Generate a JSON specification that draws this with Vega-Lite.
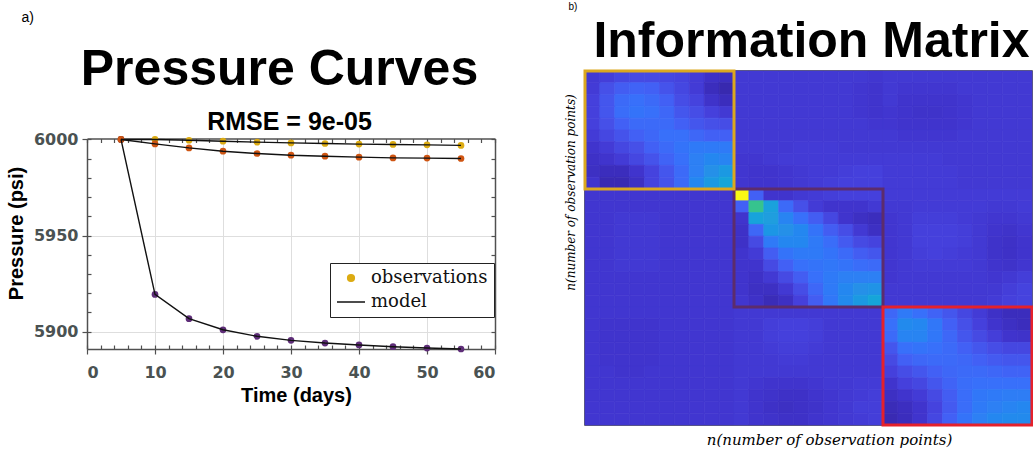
{
"$schema":"https://vega.github.io/schema/vega-lite/v6.json",
"background":"white",
"padding":{"left":6,"top":0,"right":0,"bottom":0},
"config":{
 "view":{"stroke":"#505050","strokeWidth":1.5},
 "legend":{"symbolBaseFillColor":"#dcab12"},
 "axis":{"labelFont":"DejaVu Sans","labelFontWeight":"bold","labelFontSize":16,"labelColor":"#4a5252","tickColor":"#505050","tickWidth":1.2,"domainColor":"#505050","domainWidth":1.5,"gridColor":"#dedede","gridWidth":1,"titleFont":"Liberation Sans","titleFontWeight":"bold","titleFontSize":20,"titleColor":"#000000"}
},
"datasets":{
 "press":[
  {"t":5,"p":6000,"w":"A"},{"t":10,"p":6000,"w":"A"},{"t":15,"p":5999.6,"w":"A"},{"t":20,"p":5999.1,"w":"A"},{"t":25,"p":5998.6,"w":"A"},{"t":30,"p":5998.2,"w":"A"},{"t":35,"p":5997.9,"w":"A"},{"t":40,"p":5997.6,"w":"A"},{"t":45,"p":5997.4,"w":"A"},{"t":50,"p":5997.2,"w":"A"},{"t":55,"p":5996.9,"w":"A"},
  {"t":5,"p":6000,"w":"C"},{"t":10,"p":5919.4,"w":"C"},{"t":15,"p":5906.8,"w":"C"},{"t":20,"p":5901.0,"w":"C"},{"t":25,"p":5897.6,"w":"C"},{"t":30,"p":5895.5,"w":"C"},{"t":35,"p":5894.1,"w":"C"},{"t":40,"p":5893.1,"w":"C"},{"t":45,"p":5892.2,"w":"C"},{"t":50,"p":5891.5,"w":"C"},{"t":55,"p":5891.0,"w":"C"},
  {"t":5,"p":6000,"w":"B"},{"t":10,"p":5997.7,"w":"B"},{"t":15,"p":5995.6,"w":"B"},{"t":20,"p":5993.9,"w":"B"},{"t":25,"p":5992.7,"w":"B"},{"t":30,"p":5991.8,"w":"B"},{"t":35,"p":5991.3,"w":"B"},{"t":40,"p":5990.8,"w":"B"},{"t":45,"p":5990.4,"w":"B"},{"t":50,"p":5990.3,"w":"B"},{"t":55,"p":5990.1,"w":"B"}
 ],
 "boxes":[
  {"box":"P","x0":10,"x1":20,"y0":10,"y1":20},
  {"box":"Y","x0":0,"x1":10,"y0":0,"y1":10},
  {"box":"R","x0":20,"x1":30,"y0":20,"y1":30}
 ],
 "info":[
{"r":0,"c":0,"v":0.12},{"r":0,"c":1,"v":0.14},{"r":0,"c":2,"v":0.17},{"r":0,"c":3,"v":0.18},{"r":0,"c":4,"v":0.18},{"r":0,"c":5,"v":0.17},{"r":0,"c":6,"v":0.16},{"r":0,"c":7,"v":0.13},{"r":0,"c":8,"v":0.08},{"r":0,"c":9,"v":0.06},{"r":0,"c":10,"v":0.12},{"r":0,"c":11,"v":0.12},{"r":0,"c":12,"v":0.12},{"r":0,"c":13,"v":0.12},{"r":0,"c":14,"v":0.12},{"r":0,"c":15,"v":0.12},{"r":0,"c":16,"v":0.12},{"r":0,"c":17,"v":0.12},{"r":0,"c":18,"v":0.12},{"r":0,"c":19,"v":0.11},{"r":0,"c":20,"v":0.12},{"r":0,"c":21,"v":0.12},{"r":0,"c":22,"v":0.12},{"r":0,"c":23,"v":0.12},{"r":0,"c":24,"v":0.12},{"r":0,"c":25,"v":0.12},{"r":0,"c":26,"v":0.12},{"r":0,"c":27,"v":0.12},{"r":0,"c":28,"v":0.12},{"r":0,"c":29,"v":0.12},
{"r":1,"c":0,"v":0.13},{"r":1,"c":1,"v":0.20},{"r":1,"c":2,"v":0.24},{"r":1,"c":3,"v":0.26},{"r":1,"c":4,"v":0.25},{"r":1,"c":5,"v":0.21},{"r":1,"c":6,"v":0.17},{"r":1,"c":7,"v":0.13},{"r":1,"c":8,"v":0.05},{"r":1,"c":9,"v":0.02},{"r":1,"c":10,"v":0.12},{"r":1,"c":11,"v":0.12},{"r":1,"c":12,"v":0.12},{"r":1,"c":13,"v":0.12},{"r":1,"c":14,"v":0.12},{"r":1,"c":15,"v":0.12},{"r":1,"c":16,"v":0.12},{"r":1,"c":17,"v":0.12},{"r":1,"c":18,"v":0.11},{"r":1,"c":19,"v":0.10},{"r":1,"c":20,"v":0.12},{"r":1,"c":21,"v":0.11},{"r":1,"c":22,"v":0.11},{"r":1,"c":23,"v":0.11},{"r":1,"c":24,"v":0.11},{"r":1,"c":25,"v":0.12},{"r":1,"c":26,"v":0.12},{"r":1,"c":27,"v":0.12},{"r":1,"c":28,"v":0.12},{"r":1,"c":29,"v":0.12},
{"r":2,"c":0,"v":0.15},{"r":2,"c":1,"v":0.22},{"r":2,"c":2,"v":0.28},{"r":2,"c":3,"v":0.30},{"r":2,"c":4,"v":0.28},{"r":2,"c":5,"v":0.25},{"r":2,"c":6,"v":0.19},{"r":2,"c":7,"v":0.16},{"r":2,"c":8,"v":0.09},{"r":2,"c":9,"v":0.05},{"r":2,"c":10,"v":0.12},{"r":2,"c":11,"v":0.12},{"r":2,"c":12,"v":0.12},{"r":2,"c":13,"v":0.12},{"r":2,"c":14,"v":0.12},{"r":2,"c":15,"v":0.12},{"r":2,"c":16,"v":0.12},{"r":2,"c":17,"v":0.12},{"r":2,"c":18,"v":0.11},{"r":2,"c":19,"v":0.10},{"r":2,"c":20,"v":0.12},{"r":2,"c":21,"v":0.10},{"r":2,"c":22,"v":0.10},{"r":2,"c":23,"v":0.10},{"r":2,"c":24,"v":0.10},{"r":2,"c":25,"v":0.11},{"r":2,"c":26,"v":0.12},{"r":2,"c":27,"v":0.12},{"r":2,"c":28,"v":0.12},{"r":2,"c":29,"v":0.12},
{"r":3,"c":0,"v":0.15},{"r":3,"c":1,"v":0.22},{"r":3,"c":2,"v":0.29},{"r":3,"c":3,"v":0.31},{"r":3,"c":4,"v":0.30},{"r":3,"c":5,"v":0.27},{"r":3,"c":6,"v":0.22},{"r":3,"c":7,"v":0.19},{"r":3,"c":8,"v":0.15},{"r":3,"c":9,"v":0.12},{"r":3,"c":10,"v":0.12},{"r":3,"c":11,"v":0.12},{"r":3,"c":12,"v":0.12},{"r":3,"c":13,"v":0.12},{"r":3,"c":14,"v":0.12},{"r":3,"c":15,"v":0.12},{"r":3,"c":16,"v":0.12},{"r":3,"c":17,"v":0.12},{"r":3,"c":18,"v":0.11},{"r":3,"c":19,"v":0.10},{"r":3,"c":20,"v":0.11},{"r":3,"c":21,"v":0.10},{"r":3,"c":22,"v":0.09},{"r":3,"c":23,"v":0.09},{"r":3,"c":24,"v":0.10},{"r":3,"c":25,"v":0.11},{"r":3,"c":26,"v":0.12},{"r":3,"c":27,"v":0.12},{"r":3,"c":28,"v":0.12},{"r":3,"c":29,"v":0.12},
{"r":4,"c":0,"v":0.15},{"r":4,"c":1,"v":0.20},{"r":4,"c":2,"v":0.25},{"r":4,"c":3,"v":0.28},{"r":4,"c":4,"v":0.28},{"r":4,"c":5,"v":0.28},{"r":4,"c":6,"v":0.25},{"r":4,"c":7,"v":0.22},{"r":4,"c":8,"v":0.20},{"r":4,"c":9,"v":0.19},{"r":4,"c":10,"v":0.12},{"r":4,"c":11,"v":0.12},{"r":4,"c":12,"v":0.12},{"r":4,"c":13,"v":0.12},{"r":4,"c":14,"v":0.12},{"r":4,"c":15,"v":0.12},{"r":4,"c":16,"v":0.12},{"r":4,"c":17,"v":0.12},{"r":4,"c":18,"v":0.12},{"r":4,"c":19,"v":0.11},{"r":4,"c":20,"v":0.11},{"r":4,"c":21,"v":0.10},{"r":4,"c":22,"v":0.10},{"r":4,"c":23,"v":0.10},{"r":4,"c":24,"v":0.10},{"r":4,"c":25,"v":0.11},{"r":4,"c":26,"v":0.12},{"r":4,"c":27,"v":0.12},{"r":4,"c":28,"v":0.12},{"r":4,"c":29,"v":0.12},
{"r":5,"c":0,"v":0.13},{"r":5,"c":1,"v":0.17},{"r":5,"c":2,"v":0.21},{"r":5,"c":3,"v":0.25},{"r":5,"c":4,"v":0.27},{"r":5,"c":5,"v":0.30},{"r":5,"c":6,"v":0.30},{"r":5,"c":7,"v":0.27},{"r":5,"c":8,"v":0.25},{"r":5,"c":9,"v":0.25},{"r":5,"c":10,"v":0.12},{"r":5,"c":11,"v":0.12},{"r":5,"c":12,"v":0.12},{"r":5,"c":13,"v":0.12},{"r":5,"c":14,"v":0.12},{"r":5,"c":15,"v":0.12},{"r":5,"c":16,"v":0.12},{"r":5,"c":17,"v":0.12},{"r":5,"c":18,"v":0.12},{"r":5,"c":19,"v":0.12},{"r":5,"c":20,"v":0.12},{"r":5,"c":21,"v":0.11},{"r":5,"c":22,"v":0.11},{"r":5,"c":23,"v":0.11},{"r":5,"c":24,"v":0.11},{"r":5,"c":25,"v":0.12},{"r":5,"c":26,"v":0.12},{"r":5,"c":27,"v":0.12},{"r":5,"c":28,"v":0.12},{"r":5,"c":29,"v":0.12},
{"r":6,"c":0,"v":0.10},{"r":6,"c":1,"v":0.13},{"r":6,"c":2,"v":0.17},{"r":6,"c":3,"v":0.20},{"r":6,"c":4,"v":0.25},{"r":6,"c":5,"v":0.28},{"r":6,"c":6,"v":0.31},{"r":6,"c":7,"v":0.33},{"r":6,"c":8,"v":0.33},{"r":6,"c":9,"v":0.33},{"r":6,"c":10,"v":0.12},{"r":6,"c":11,"v":0.12},{"r":6,"c":12,"v":0.12},{"r":6,"c":13,"v":0.12},{"r":6,"c":14,"v":0.13},{"r":6,"c":15,"v":0.13},{"r":6,"c":16,"v":0.13},{"r":6,"c":17,"v":0.12},{"r":6,"c":18,"v":0.12},{"r":6,"c":19,"v":0.12},{"r":6,"c":20,"v":0.12},{"r":6,"c":21,"v":0.12},{"r":6,"c":22,"v":0.12},{"r":6,"c":23,"v":0.12},{"r":6,"c":24,"v":0.12},{"r":6,"c":25,"v":0.12},{"r":6,"c":26,"v":0.12},{"r":6,"c":27,"v":0.12},{"r":6,"c":28,"v":0.12},{"r":6,"c":29,"v":0.12},
{"r":7,"c":0,"v":0.08},{"r":7,"c":1,"v":0.10},{"r":7,"c":2,"v":0.13},{"r":7,"c":3,"v":0.17},{"r":7,"c":4,"v":0.21},{"r":7,"c":5,"v":0.26},{"r":7,"c":6,"v":0.30},{"r":7,"c":7,"v":0.35},{"r":7,"c":8,"v":0.37},{"r":7,"c":9,"v":0.36},{"r":7,"c":10,"v":0.11},{"r":7,"c":11,"v":0.11},{"r":7,"c":12,"v":0.12},{"r":7,"c":13,"v":0.13},{"r":7,"c":14,"v":0.13},{"r":7,"c":15,"v":0.13},{"r":7,"c":16,"v":0.13},{"r":7,"c":17,"v":0.13},{"r":7,"c":18,"v":0.13},{"r":7,"c":19,"v":0.13},{"r":7,"c":20,"v":0.13},{"r":7,"c":21,"v":0.13},{"r":7,"c":22,"v":0.13},{"r":7,"c":23,"v":0.13},{"r":7,"c":24,"v":0.12},{"r":7,"c":25,"v":0.12},{"r":7,"c":26,"v":0.12},{"r":7,"c":27,"v":0.12},{"r":7,"c":28,"v":0.12},{"r":7,"c":29,"v":0.12},
{"r":8,"c":0,"v":0.07},{"r":8,"c":1,"v":0.05},{"r":8,"c":2,"v":0.05},{"r":8,"c":3,"v":0.10},{"r":8,"c":4,"v":0.16},{"r":8,"c":5,"v":0.22},{"r":8,"c":6,"v":0.28},{"r":8,"c":7,"v":0.35},{"r":8,"c":8,"v":0.40},{"r":8,"c":9,"v":0.43},{"r":8,"c":10,"v":0.11},{"r":8,"c":11,"v":0.10},{"r":8,"c":12,"v":0.10},{"r":8,"c":13,"v":0.11},{"r":8,"c":14,"v":0.12},{"r":8,"c":15,"v":0.13},{"r":8,"c":16,"v":0.13},{"r":8,"c":17,"v":0.14},{"r":8,"c":18,"v":0.15},{"r":8,"c":19,"v":0.15},{"r":8,"c":20,"v":0.13},{"r":8,"c":21,"v":0.13},{"r":8,"c":22,"v":0.13},{"r":8,"c":23,"v":0.13},{"r":8,"c":24,"v":0.13},{"r":8,"c":25,"v":0.12},{"r":8,"c":26,"v":0.12},{"r":8,"c":27,"v":0.12},{"r":8,"c":28,"v":0.12},{"r":8,"c":29,"v":0.12},
{"r":9,"c":0,"v":0.10},{"r":9,"c":1,"v":0.03},{"r":9,"c":2,"v":0.03},{"r":9,"c":3,"v":0.07},{"r":9,"c":4,"v":0.16},{"r":9,"c":5,"v":0.21},{"r":9,"c":6,"v":0.28},{"r":9,"c":7,"v":0.37},{"r":9,"c":8,"v":0.43},{"r":9,"c":9,"v":0.48},{"r":9,"c":10,"v":0.11},{"r":9,"c":11,"v":0.10},{"r":9,"c":12,"v":0.10},{"r":9,"c":13,"v":0.11},{"r":9,"c":14,"v":0.12},{"r":9,"c":15,"v":0.13},{"r":9,"c":16,"v":0.14},{"r":9,"c":17,"v":0.15},{"r":9,"c":18,"v":0.15},{"r":9,"c":19,"v":0.15},{"r":9,"c":20,"v":0.13},{"r":9,"c":21,"v":0.13},{"r":9,"c":22,"v":0.13},{"r":9,"c":23,"v":0.13},{"r":9,"c":24,"v":0.13},{"r":9,"c":25,"v":0.12},{"r":9,"c":26,"v":0.12},{"r":9,"c":27,"v":0.12},{"r":9,"c":28,"v":0.12},{"r":9,"c":29,"v":0.12},
{"r":10,"c":0,"v":0.11},{"r":10,"c":1,"v":0.11},{"r":10,"c":2,"v":0.11},{"r":10,"c":3,"v":0.11},{"r":10,"c":4,"v":0.11},{"r":10,"c":5,"v":0.11},{"r":10,"c":6,"v":0.11},{"r":10,"c":7,"v":0.11},{"r":10,"c":8,"v":0.11},{"r":10,"c":9,"v":0.11},{"r":10,"c":10,"v":1.0},{"r":10,"c":11,"v":0.25},{"r":10,"c":12,"v":0.10},{"r":10,"c":13,"v":0.10},{"r":10,"c":14,"v":0.12},{"r":10,"c":15,"v":0.13},{"r":10,"c":16,"v":0.14},{"r":10,"c":17,"v":0.15},{"r":10,"c":18,"v":0.15},{"r":10,"c":19,"v":0.15},{"r":10,"c":20,"v":0.13},{"r":10,"c":21,"v":0.13},{"r":10,"c":22,"v":0.13},{"r":10,"c":23,"v":0.13},{"r":10,"c":24,"v":0.13},{"r":10,"c":25,"v":0.13},{"r":10,"c":26,"v":0.13},{"r":10,"c":27,"v":0.13},{"r":10,"c":28,"v":0.13},{"r":10,"c":29,"v":0.13},
{"r":11,"c":0,"v":0.11},{"r":11,"c":1,"v":0.11},{"r":11,"c":2,"v":0.11},{"r":11,"c":3,"v":0.11},{"r":11,"c":4,"v":0.11},{"r":11,"c":5,"v":0.11},{"r":11,"c":6,"v":0.11},{"r":11,"c":7,"v":0.11},{"r":11,"c":8,"v":0.11},{"r":11,"c":9,"v":0.11},{"r":11,"c":10,"v":0.25},{"r":11,"c":11,"v":0.62},{"r":11,"c":12,"v":0.46},{"r":11,"c":13,"v":0.28},{"r":11,"c":14,"v":0.20},{"r":11,"c":15,"v":0.13},{"r":11,"c":16,"v":0.10},{"r":11,"c":17,"v":0.10},{"r":11,"c":18,"v":0.10},{"r":11,"c":19,"v":0.12},{"r":11,"c":20,"v":0.12},{"r":11,"c":21,"v":0.12},{"r":11,"c":22,"v":0.13},{"r":11,"c":23,"v":0.13},{"r":11,"c":24,"v":0.13},{"r":11,"c":25,"v":0.13},{"r":11,"c":26,"v":0.13},{"r":11,"c":27,"v":0.12},{"r":11,"c":28,"v":0.12},{"r":11,"c":29,"v":0.13},
{"r":12,"c":0,"v":0.11},{"r":12,"c":1,"v":0.11},{"r":12,"c":2,"v":0.12},{"r":12,"c":3,"v":0.12},{"r":12,"c":4,"v":0.12},{"r":12,"c":5,"v":0.11},{"r":12,"c":6,"v":0.11},{"r":12,"c":7,"v":0.11},{"r":12,"c":8,"v":0.11},{"r":12,"c":9,"v":0.11},{"r":12,"c":10,"v":0.10},{"r":12,"c":11,"v":0.47},{"r":12,"c":12,"v":0.45},{"r":12,"c":13,"v":0.36},{"r":12,"c":14,"v":0.30},{"r":12,"c":15,"v":0.24},{"r":12,"c":16,"v":0.17},{"r":12,"c":17,"v":0.10},{"r":12,"c":18,"v":0.07},{"r":12,"c":19,"v":0.05},{"r":12,"c":20,"v":0.11},{"r":12,"c":21,"v":0.12},{"r":12,"c":22,"v":0.14},{"r":12,"c":23,"v":0.14},{"r":12,"c":24,"v":0.14},{"r":12,"c":25,"v":0.13},{"r":12,"c":26,"v":0.12},{"r":12,"c":27,"v":0.11},{"r":12,"c":28,"v":0.11},{"r":12,"c":29,"v":0.12},
{"r":13,"c":0,"v":0.11},{"r":13,"c":1,"v":0.11},{"r":13,"c":2,"v":0.12},{"r":13,"c":3,"v":0.12},{"r":13,"c":4,"v":0.12},{"r":13,"c":5,"v":0.11},{"r":13,"c":6,"v":0.11},{"r":13,"c":7,"v":0.11},{"r":13,"c":8,"v":0.11},{"r":13,"c":9,"v":0.11},{"r":13,"c":10,"v":0.08},{"r":13,"c":11,"v":0.27},{"r":13,"c":12,"v":0.42},{"r":13,"c":13,"v":0.40},{"r":13,"c":14,"v":0.37},{"r":13,"c":15,"v":0.31},{"r":13,"c":16,"v":0.24},{"r":13,"c":17,"v":0.19},{"r":13,"c":18,"v":0.12},{"r":13,"c":19,"v":0.07},{"r":13,"c":20,"v":0.11},{"r":13,"c":21,"v":0.12},{"r":13,"c":22,"v":0.15},{"r":13,"c":23,"v":0.15},{"r":13,"c":24,"v":0.15},{"r":13,"c":25,"v":0.14},{"r":13,"c":26,"v":0.12},{"r":13,"c":27,"v":0.10},{"r":13,"c":28,"v":0.09},{"r":13,"c":29,"v":0.11},
{"r":14,"c":0,"v":0.11},{"r":14,"c":1,"v":0.11},{"r":14,"c":2,"v":0.12},{"r":14,"c":3,"v":0.12},{"r":14,"c":4,"v":0.12},{"r":14,"c":5,"v":0.11},{"r":14,"c":6,"v":0.11},{"r":14,"c":7,"v":0.11},{"r":14,"c":8,"v":0.11},{"r":14,"c":9,"v":0.11},{"r":14,"c":10,"v":0.08},{"r":14,"c":11,"v":0.18},{"r":14,"c":12,"v":0.33},{"r":14,"c":13,"v":0.37},{"r":14,"c":14,"v":0.37},{"r":14,"c":15,"v":0.33},{"r":14,"c":16,"v":0.29},{"r":14,"c":17,"v":0.23},{"r":14,"c":18,"v":0.18},{"r":14,"c":19,"v":0.16},{"r":14,"c":20,"v":0.11},{"r":14,"c":21,"v":0.12},{"r":14,"c":22,"v":0.15},{"r":14,"c":23,"v":0.15},{"r":14,"c":24,"v":0.15},{"r":14,"c":25,"v":0.14},{"r":14,"c":26,"v":0.12},{"r":14,"c":27,"v":0.09},{"r":14,"c":28,"v":0.08},{"r":14,"c":29,"v":0.10},
{"r":15,"c":0,"v":0.11},{"r":15,"c":1,"v":0.11},{"r":15,"c":2,"v":0.12},{"r":15,"c":3,"v":0.12},{"r":15,"c":4,"v":0.12},{"r":15,"c":5,"v":0.11},{"r":15,"c":6,"v":0.11},{"r":15,"c":7,"v":0.11},{"r":15,"c":8,"v":0.11},{"r":15,"c":9,"v":0.11},{"r":15,"c":10,"v":0.10},{"r":15,"c":11,"v":0.13},{"r":15,"c":12,"v":0.24},{"r":15,"c":13,"v":0.31},{"r":15,"c":14,"v":0.33},{"r":15,"c":15,"v":0.33},{"r":15,"c":16,"v":0.31},{"r":15,"c":17,"v":0.28},{"r":15,"c":18,"v":0.24},{"r":15,"c":19,"v":0.22},{"r":15,"c":20,"v":0.11},{"r":15,"c":21,"v":0.12},{"r":15,"c":22,"v":0.14},{"r":15,"c":23,"v":0.15},{"r":15,"c":24,"v":0.14},{"r":15,"c":25,"v":0.13},{"r":15,"c":26,"v":0.12},{"r":15,"c":27,"v":0.09},{"r":15,"c":28,"v":0.08},{"r":15,"c":29,"v":0.10},
{"r":16,"c":0,"v":0.11},{"r":16,"c":1,"v":0.11},{"r":16,"c":2,"v":0.12},{"r":16,"c":3,"v":0.12},{"r":16,"c":4,"v":0.12},{"r":16,"c":5,"v":0.11},{"r":16,"c":6,"v":0.11},{"r":16,"c":7,"v":0.11},{"r":16,"c":8,"v":0.11},{"r":16,"c":9,"v":0.11},{"r":16,"c":10,"v":0.10},{"r":16,"c":11,"v":0.10},{"r":16,"c":12,"v":0.18},{"r":16,"c":13,"v":0.25},{"r":16,"c":14,"v":0.30},{"r":16,"c":15,"v":0.31},{"r":16,"c":16,"v":0.32},{"r":16,"c":17,"v":0.31},{"r":16,"c":18,"v":0.29},{"r":16,"c":19,"v":0.28},{"r":16,"c":20,"v":0.11},{"r":16,"c":21,"v":0.12},{"r":16,"c":22,"v":0.13},{"r":16,"c":23,"v":0.13},{"r":16,"c":24,"v":0.13},{"r":16,"c":25,"v":0.13},{"r":16,"c":26,"v":0.12},{"r":16,"c":27,"v":0.10},{"r":16,"c":28,"v":0.09},{"r":16,"c":29,"v":0.11},
{"r":17,"c":0,"v":0.11},{"r":17,"c":1,"v":0.11},{"r":17,"c":2,"v":0.11},{"r":17,"c":3,"v":0.11},{"r":17,"c":4,"v":0.11},{"r":17,"c":5,"v":0.11},{"r":17,"c":6,"v":0.11},{"r":17,"c":7,"v":0.11},{"r":17,"c":8,"v":0.11},{"r":17,"c":9,"v":0.11},{"r":17,"c":10,"v":0.10},{"r":17,"c":11,"v":0.08},{"r":17,"c":12,"v":0.12},{"r":17,"c":13,"v":0.18},{"r":17,"c":14,"v":0.24},{"r":17,"c":15,"v":0.30},{"r":17,"c":16,"v":0.33},{"r":17,"c":17,"v":0.35},{"r":17,"c":18,"v":0.35},{"r":17,"c":19,"v":0.35},{"r":17,"c":20,"v":0.11},{"r":17,"c":21,"v":0.12},{"r":17,"c":22,"v":0.12},{"r":17,"c":23,"v":0.12},{"r":17,"c":24,"v":0.12},{"r":17,"c":25,"v":0.12},{"r":17,"c":26,"v":0.12},{"r":17,"c":27,"v":0.11},{"r":17,"c":28,"v":0.12},{"r":17,"c":29,"v":0.14},
{"r":18,"c":0,"v":0.11},{"r":18,"c":1,"v":0.11},{"r":18,"c":2,"v":0.11},{"r":18,"c":3,"v":0.11},{"r":18,"c":4,"v":0.11},{"r":18,"c":5,"v":0.11},{"r":18,"c":6,"v":0.11},{"r":18,"c":7,"v":0.11},{"r":18,"c":8,"v":0.11},{"r":18,"c":9,"v":0.11},{"r":18,"c":10,"v":0.10},{"r":18,"c":11,"v":0.07},{"r":18,"c":12,"v":0.07},{"r":18,"c":13,"v":0.12},{"r":18,"c":14,"v":0.19},{"r":18,"c":15,"v":0.27},{"r":18,"c":16,"v":0.33},{"r":18,"c":17,"v":0.37},{"r":18,"c":18,"v":0.40},{"r":18,"c":19,"v":0.41},{"r":18,"c":20,"v":0.12},{"r":18,"c":21,"v":0.12},{"r":18,"c":22,"v":0.12},{"r":18,"c":23,"v":0.12},{"r":18,"c":24,"v":0.12},{"r":18,"c":25,"v":0.12},{"r":18,"c":26,"v":0.12},{"r":18,"c":27,"v":0.12},{"r":18,"c":28,"v":0.14},{"r":18,"c":29,"v":0.16},
{"r":19,"c":0,"v":0.11},{"r":19,"c":1,"v":0.11},{"r":19,"c":2,"v":0.11},{"r":19,"c":3,"v":0.11},{"r":19,"c":4,"v":0.11},{"r":19,"c":5,"v":0.11},{"r":19,"c":6,"v":0.11},{"r":19,"c":7,"v":0.11},{"r":19,"c":8,"v":0.11},{"r":19,"c":9,"v":0.11},{"r":19,"c":10,"v":0.11},{"r":19,"c":11,"v":0.08},{"r":19,"c":12,"v":0.04},{"r":19,"c":13,"v":0.07},{"r":19,"c":14,"v":0.15},{"r":19,"c":15,"v":0.24},{"r":19,"c":16,"v":0.32},{"r":19,"c":17,"v":0.38},{"r":19,"c":18,"v":0.43},{"r":19,"c":19,"v":0.48},{"r":19,"c":20,"v":0.12},{"r":19,"c":21,"v":0.12},{"r":19,"c":22,"v":0.12},{"r":19,"c":23,"v":0.12},{"r":19,"c":24,"v":0.12},{"r":19,"c":25,"v":0.12},{"r":19,"c":26,"v":0.12},{"r":19,"c":27,"v":0.13},{"r":19,"c":28,"v":0.15},{"r":19,"c":29,"v":0.16},
{"r":20,"c":0,"v":0.11},{"r":20,"c":1,"v":0.11},{"r":20,"c":2,"v":0.11},{"r":20,"c":3,"v":0.11},{"r":20,"c":4,"v":0.11},{"r":20,"c":5,"v":0.11},{"r":20,"c":6,"v":0.11},{"r":20,"c":7,"v":0.11},{"r":20,"c":8,"v":0.11},{"r":20,"c":9,"v":0.11},{"r":20,"c":10,"v":0.12},{"r":20,"c":11,"v":0.12},{"r":20,"c":12,"v":0.12},{"r":20,"c":13,"v":0.12},{"r":20,"c":14,"v":0.12},{"r":20,"c":15,"v":0.12},{"r":20,"c":16,"v":0.12},{"r":20,"c":17,"v":0.12},{"r":20,"c":18,"v":0.12},{"r":20,"c":19,"v":0.12},{"r":20,"c":20,"v":0.27},{"r":20,"c":21,"v":0.33},{"r":20,"c":22,"v":0.30},{"r":20,"c":23,"v":0.26},{"r":20,"c":24,"v":0.22},{"r":20,"c":25,"v":0.17},{"r":20,"c":26,"v":0.13},{"r":20,"c":27,"v":0.08},{"r":20,"c":28,"v":0.05},{"r":20,"c":29,"v":0.05},
{"r":21,"c":0,"v":0.11},{"r":21,"c":1,"v":0.10},{"r":21,"c":2,"v":0.10},{"r":21,"c":3,"v":0.10},{"r":21,"c":4,"v":0.10},{"r":21,"c":5,"v":0.11},{"r":21,"c":6,"v":0.11},{"r":21,"c":7,"v":0.11},{"r":21,"c":8,"v":0.11},{"r":21,"c":9,"v":0.11},{"r":21,"c":10,"v":0.12},{"r":21,"c":11,"v":0.12},{"r":21,"c":12,"v":0.14},{"r":21,"c":13,"v":0.15},{"r":21,"c":14,"v":0.15},{"r":21,"c":15,"v":0.14},{"r":21,"c":16,"v":0.12},{"r":21,"c":17,"v":0.12},{"r":21,"c":18,"v":0.12},{"r":21,"c":19,"v":0.12},{"r":21,"c":20,"v":0.30},{"r":21,"c":21,"v":0.38},{"r":21,"c":22,"v":0.37},{"r":21,"c":23,"v":0.32},{"r":21,"c":24,"v":0.25},{"r":21,"c":25,"v":0.20},{"r":21,"c":26,"v":0.15},{"r":21,"c":27,"v":0.10},{"r":21,"c":28,"v":0.07},{"r":21,"c":29,"v":0.05},
{"r":22,"c":0,"v":0.11},{"r":22,"c":1,"v":0.10},{"r":22,"c":2,"v":0.10},{"r":22,"c":3,"v":0.10},{"r":22,"c":4,"v":0.10},{"r":22,"c":5,"v":0.11},{"r":22,"c":6,"v":0.11},{"r":22,"c":7,"v":0.11},{"r":22,"c":8,"v":0.11},{"r":22,"c":9,"v":0.11},{"r":22,"c":10,"v":0.12},{"r":22,"c":11,"v":0.12},{"r":22,"c":12,"v":0.14},{"r":22,"c":13,"v":0.15},{"r":22,"c":14,"v":0.15},{"r":22,"c":15,"v":0.14},{"r":22,"c":16,"v":0.12},{"r":22,"c":17,"v":0.12},{"r":22,"c":18,"v":0.12},{"r":22,"c":19,"v":0.12},{"r":22,"c":20,"v":0.28},{"r":22,"c":21,"v":0.36},{"r":22,"c":22,"v":0.36},{"r":22,"c":23,"v":0.32},{"r":22,"c":24,"v":0.27},{"r":22,"c":25,"v":0.22},{"r":22,"c":26,"v":0.18},{"r":22,"c":27,"v":0.14},{"r":22,"c":28,"v":0.10},{"r":22,"c":29,"v":0.09},
{"r":23,"c":0,"v":0.11},{"r":23,"c":1,"v":0.10},{"r":23,"c":2,"v":0.10},{"r":23,"c":3,"v":0.10},{"r":23,"c":4,"v":0.10},{"r":23,"c":5,"v":0.11},{"r":23,"c":6,"v":0.11},{"r":23,"c":7,"v":0.11},{"r":23,"c":8,"v":0.11},{"r":23,"c":9,"v":0.11},{"r":23,"c":10,"v":0.12},{"r":23,"c":11,"v":0.12},{"r":23,"c":12,"v":0.13},{"r":23,"c":13,"v":0.14},{"r":23,"c":14,"v":0.14},{"r":23,"c":15,"v":0.13},{"r":23,"c":16,"v":0.12},{"r":23,"c":17,"v":0.12},{"r":23,"c":18,"v":0.12},{"r":23,"c":19,"v":0.12},{"r":23,"c":20,"v":0.22},{"r":23,"c":21,"v":0.30},{"r":23,"c":22,"v":0.31},{"r":23,"c":23,"v":0.30},{"r":23,"c":24,"v":0.28},{"r":23,"c":25,"v":0.25},{"r":23,"c":26,"v":0.22},{"r":23,"c":27,"v":0.19},{"r":23,"c":28,"v":0.17},{"r":23,"c":29,"v":0.17},
{"r":24,"c":0,"v":0.11},{"r":24,"c":1,"v":0.10},{"r":24,"c":2,"v":0.10},{"r":24,"c":3,"v":0.10},{"r":24,"c":4,"v":0.10},{"r":24,"c":5,"v":0.11},{"r":24,"c":6,"v":0.11},{"r":24,"c":7,"v":0.11},{"r":24,"c":8,"v":0.11},{"r":24,"c":9,"v":0.11},{"r":24,"c":10,"v":0.12},{"r":24,"c":11,"v":0.12},{"r":24,"c":12,"v":0.12},{"r":24,"c":13,"v":0.13},{"r":24,"c":14,"v":0.13},{"r":24,"c":15,"v":0.12},{"r":24,"c":16,"v":0.12},{"r":24,"c":17,"v":0.12},{"r":24,"c":18,"v":0.12},{"r":24,"c":19,"v":0.12},{"r":24,"c":20,"v":0.18},{"r":24,"c":21,"v":0.25},{"r":24,"c":22,"v":0.27},{"r":24,"c":23,"v":0.28},{"r":24,"c":24,"v":0.28},{"r":24,"c":25,"v":0.27},{"r":24,"c":26,"v":0.25},{"r":24,"c":27,"v":0.23},{"r":24,"c":28,"v":0.22},{"r":24,"c":29,"v":0.22},
{"r":25,"c":0,"v":0.11},{"r":25,"c":1,"v":0.11},{"r":25,"c":2,"v":0.10},{"r":25,"c":3,"v":0.10},{"r":25,"c":4,"v":0.11},{"r":25,"c":5,"v":0.11},{"r":25,"c":6,"v":0.11},{"r":25,"c":7,"v":0.11},{"r":25,"c":8,"v":0.11},{"r":25,"c":9,"v":0.11},{"r":25,"c":10,"v":0.12},{"r":25,"c":11,"v":0.12},{"r":25,"c":12,"v":0.12},{"r":25,"c":13,"v":0.12},{"r":25,"c":14,"v":0.12},{"r":25,"c":15,"v":0.12},{"r":25,"c":16,"v":0.12},{"r":25,"c":17,"v":0.12},{"r":25,"c":18,"v":0.12},{"r":25,"c":19,"v":0.12},{"r":25,"c":20,"v":0.15},{"r":25,"c":21,"v":0.19},{"r":25,"c":22,"v":0.22},{"r":25,"c":23,"v":0.25},{"r":25,"c":24,"v":0.27},{"r":25,"c":25,"v":0.28},{"r":25,"c":26,"v":0.28},{"r":25,"c":27,"v":0.27},{"r":25,"c":28,"v":0.26},{"r":25,"c":29,"v":0.26},
{"r":26,"c":0,"v":0.11},{"r":26,"c":1,"v":0.11},{"r":26,"c":2,"v":0.11},{"r":26,"c":3,"v":0.11},{"r":26,"c":4,"v":0.11},{"r":26,"c":5,"v":0.11},{"r":26,"c":6,"v":0.11},{"r":26,"c":7,"v":0.11},{"r":26,"c":8,"v":0.11},{"r":26,"c":9,"v":0.11},{"r":26,"c":10,"v":0.12},{"r":26,"c":11,"v":0.11},{"r":26,"c":12,"v":0.10},{"r":26,"c":13,"v":0.10},{"r":26,"c":14,"v":0.10},{"r":26,"c":15,"v":0.11},{"r":26,"c":16,"v":0.12},{"r":26,"c":17,"v":0.12},{"r":26,"c":18,"v":0.13},{"r":26,"c":19,"v":0.13},{"r":26,"c":20,"v":0.10},{"r":26,"c":21,"v":0.15},{"r":26,"c":22,"v":0.17},{"r":26,"c":23,"v":0.22},{"r":26,"c":24,"v":0.26},{"r":26,"c":25,"v":0.29},{"r":26,"c":26,"v":0.30},{"r":26,"c":27,"v":0.30},{"r":26,"c":28,"v":0.30},{"r":26,"c":29,"v":0.30},
{"r":27,"c":0,"v":0.11},{"r":27,"c":1,"v":0.11},{"r":27,"c":2,"v":0.11},{"r":27,"c":3,"v":0.11},{"r":27,"c":4,"v":0.11},{"r":27,"c":5,"v":0.11},{"r":27,"c":6,"v":0.11},{"r":27,"c":7,"v":0.11},{"r":27,"c":8,"v":0.11},{"r":27,"c":9,"v":0.11},{"r":27,"c":10,"v":0.12},{"r":27,"c":11,"v":0.10},{"r":27,"c":12,"v":0.09},{"r":27,"c":13,"v":0.08},{"r":27,"c":14,"v":0.08},{"r":27,"c":15,"v":0.10},{"r":27,"c":16,"v":0.11},{"r":27,"c":17,"v":0.12},{"r":27,"c":18,"v":0.13},{"r":27,"c":19,"v":0.14},{"r":27,"c":20,"v":0.07},{"r":27,"c":21,"v":0.10},{"r":27,"c":22,"v":0.13},{"r":27,"c":23,"v":0.18},{"r":27,"c":24,"v":0.24},{"r":27,"c":25,"v":0.29},{"r":27,"c":26,"v":0.32},{"r":27,"c":27,"v":0.33},{"r":27,"c":28,"v":0.34},{"r":27,"c":29,"v":0.34},
{"r":28,"c":0,"v":0.11},{"r":28,"c":1,"v":0.11},{"r":28,"c":2,"v":0.11},{"r":28,"c":3,"v":0.11},{"r":28,"c":4,"v":0.11},{"r":28,"c":5,"v":0.11},{"r":28,"c":6,"v":0.11},{"r":28,"c":7,"v":0.11},{"r":28,"c":8,"v":0.11},{"r":28,"c":9,"v":0.11},{"r":28,"c":10,"v":0.12},{"r":28,"c":11,"v":0.10},{"r":28,"c":12,"v":0.08},{"r":28,"c":13,"v":0.07},{"r":28,"c":14,"v":0.08},{"r":28,"c":15,"v":0.09},{"r":28,"c":16,"v":0.11},{"r":28,"c":17,"v":0.12},{"r":28,"c":18,"v":0.14},{"r":28,"c":19,"v":0.14},{"r":28,"c":20,"v":0.04},{"r":28,"c":21,"v":0.06},{"r":28,"c":22,"v":0.10},{"r":28,"c":23,"v":0.16},{"r":28,"c":24,"v":0.23},{"r":28,"c":25,"v":0.29},{"r":28,"c":26,"v":0.33},{"r":28,"c":27,"v":0.35},{"r":28,"c":28,"v":0.36},{"r":28,"c":29,"v":0.37},
{"r":29,"c":0,"v":0.11},{"r":29,"c":1,"v":0.11},{"r":29,"c":2,"v":0.11},{"r":29,"c":3,"v":0.11},{"r":29,"c":4,"v":0.11},{"r":29,"c":5,"v":0.11},{"r":29,"c":6,"v":0.11},{"r":29,"c":7,"v":0.11},{"r":29,"c":8,"v":0.11},{"r":29,"c":9,"v":0.11},{"r":29,"c":10,"v":0.12},{"r":29,"c":11,"v":0.10},{"r":29,"c":12,"v":0.09},{"r":29,"c":13,"v":0.08},{"r":29,"c":14,"v":0.08},{"r":29,"c":15,"v":0.10},{"r":29,"c":16,"v":0.11},{"r":29,"c":17,"v":0.12},{"r":29,"c":18,"v":0.13},{"r":29,"c":19,"v":0.14},{"r":29,"c":20,"v":0.03},{"r":29,"c":21,"v":0.05},{"r":29,"c":22,"v":0.10},{"r":29,"c":23,"v":0.17},{"r":29,"c":24,"v":0.25},{"r":29,"c":25,"v":0.31},{"r":29,"c":26,"v":0.35},{"r":29,"c":27,"v":0.37},{"r":29,"c":28,"v":0.38},{"r":29,"c":29,"v":0.38}
 ]
},
"concat":[
 {
  "width":408,"height":278,
  "view":{"stroke":null},
  "data":{"name":"press"},
  "layer":[
   {
    "mark":{"type":"point","opacity":0},
    "encoding":{
     "x":{"field":"t","type":"quantitative","scale":{"domain":[0,60],"nice":false},"axis":{"orient":"bottom","values":[10,20,30,40,50],"labels":false,"tickSize":-210.5,"tickColor":"#dedede","tickWidth":1,"domain":false,"grid":false,"title":null}},
     "y":{"field":"p","type":"quantitative","scale":{"domain":[5891,6000.5],"nice":false,"zero":false,"range":[278,67.5]},"axis":{"orient":"left","values":[5900,5950],"labels":false,"tickSize":-408,"tickColor":"#dedede","tickWidth":1,"domain":false,"grid":false,"title":null}}
    }
   },
   {
    "mark":{"type":"point","filled":true,"opacity":1},
    "encoding":{
     "x":{"field":"t","type":"quantitative",
      "axis":{"orient":"bottom","values":[0,10,20,30,40,50,60],"title":"Time (days)","grid":false,"tickSize":5,"labelPadding":10,"domain":true,"titleX":209,"titleY":52,"titleBaseline":"alphabetic","titleAlign":"center"}},
     "y":{"field":"p","type":"quantitative",
      "axis":{"orient":"left","values":[5900,5950,6000],"format":"d","title":"Pressure (psi)","grid":false,"tickSize":5,"labelPadding":4,"domain":true,"titleX":-61,"titleY":162,"titleAngle":270,"titleBaseline":"bottom","titleAlign":"center"}},
     "fill":{"field":"w","type":"nominal","scale":{"domain":["A","B","C"],"range":["#dcab12","#cf5512","#5e2d78"]},"legend":null},
     "strokeWidth":{"value":0},
     "shape":{"datum":"observations","type":"nominal","scale":{"domain":["observations","model"],"range":["circle","stroke"]}},
     "size":{"datum":"observations","type":"nominal","scale":{"domain":["observations","model"],"range":[45,784]}},
     "stroke":{"datum":"observations","type":"nominal","scale":{"domain":["observations","model"],"range":["#dcab12","#111111"]},
      "legend":{"orient":"none","legendX":243,"legendY":192,"title":null,"labelFont":"DejaVu Serif","labelFontSize":18,"labelFontWeight":"normal","labelColor":"#111111","labelOffset":5,"strokeColor":"#222222","fillColor":"#ffffff","padding":6,"rowPadding":-3,"symbolFillColor":"#dcab12","symbolStrokeWidth":1.5,"symbolOpacity":1}}
    }
   },
   {
    "mark":{"type":"line","strokeWidth":1.4},
    "encoding":{
     "x":{"field":"t","type":"quantitative","axis":{"orient":"top","offset":-67.5,"values":[0,2,4,6,8,10,12,14,16,18,20,22,24,26,28,30,32,34,36,38,40,42,44,46,48,50,52,54,56,58,60],"labels":false,"tickSize":-4,"domain":true,"grid":false,"title":"RMSE = 9e-05","titleFontSize":25,"titleX":202,"titleY":-9,"titleBaseline":"alphabetic","titleAlign":"center"}},
     "y":{"field":"p","type":"quantitative","axis":{"orient":"right","values":[5900,5910,5920,5930,5940,5950,5960,5970,5980,5990,6000],"labels":false,"tickSize":-4,"domain":true,"grid":false,"title":null}},
     "detail":{"field":"w","type":"nominal"},
     "stroke":{"datum":"model","type":"nominal"}
    }
   },
   {
    "mark":{"type":"point","opacity":0},
    "encoding":{
     "x":{"field":"t","type":"quantitative","axis":{"orient":"bottom","values":[0,2,4,6,8,10,12,14,16,18,20,22,24,26,28,30,32,34,36,38,40,42,44,46,48,50,52,54,56,58,60],"labels":false,"tickSize":-4,"domain":false,"grid":false,"title":null}},
     "y":{"field":"p","type":"quantitative","axis":{"orient":"left","values":[5900,5910,5920,5930,5940,5950,5960,5970,5980,5990,6000],"labels":false,"tickSize":-4,"domain":false,"grid":false,"title":null}}
    }
   },
   {
    "mark":{"type":"point","opacity":0},
    "encoding":{
     "x":{"field":"t","type":"quantitative","axis":{"orient":"top","labels":false,"ticks":false,"domain":false,"grid":false,"title":"Pressure Curves","titleFontSize":50,"titleX":192,"titleY":13,"titleBaseline":"alphabetic","titleAlign":"center"}},
     "y":{"field":"p","type":"quantitative","axis":{"orient":"left","labels":false,"ticks":false,"domain":false,"grid":false,"title":"a)","titleAngle":0,"titleFontSize":14,"titleFontWeight":"normal","titleX":-66,"titleY":-49.6,"titleAlign":"left","titleBaseline":"alphabetic"}}
    }
   }
  ],
  "resolve":{"axis":{"x":"independent","y":"independent"}}
 },
 {
  "width":447,"height":354,
  "view":{"stroke":"#333333","strokeWidth":1.5},
  "layer":[
   {
    "data":{"name":"info"},
    "mark":{"type":"rect","strokeWidth":0.7},
    "encoding":{
     "x":{"field":"c","type":"ordinal","scale":{"paddingInner":0,"paddingOuter":0},
      "axis":{"orient":"bottom","labels":false,"ticks":false,"domain":false,"grid":false,"title":"n(number of observation points)","titleFont":"DejaVu Serif","titleFontStyle":"italic","titleFontWeight":"normal","titleFontSize":15,"titleX":244,"titleY":19,"titleBaseline":"alphabetic","titleAlign":"center"}},
     "y":{"field":"r","type":"ordinal","scale":{"paddingInner":0,"paddingOuter":0},
      "axis":{"orient":"left","labels":false,"ticks":false,"domain":false,"grid":false,"title":"n(number of observation points)","titleFont":"DejaVu Serif","titleFontStyle":"italic","titleFontWeight":"normal","titleFontSize":12,"titleAngle":270,"titleX":-11,"titleY":121,"titleBaseline":"alphabetic","titleAlign":"center"}},
     "fill":{"field":"v","type":"quantitative","scale":{"domain":[0,0.05,0.1,0.15,0.2,0.25,0.3,0.35,0.4,0.45,0.5,0.62,0.8,1.0],"range":["#3626a5","#3b2dbd","#4034cd","#4540dc","#4650e8","#4260f5","#3870fa","#2d80f4","#2590e8","#1f9ede","#1aaad5","#36c38e","#c0bf40","#f9f914"]},"legend":null},
     "stroke":{"field":"v","type":"quantitative","scale":{"domain":[0,0.05,0.1,0.15,0.2,0.25,0.3,0.35,0.4,0.45,0.5,0.62,0.8,1.0],"range":["#3626a5","#3b2dbd","#4034cd","#4540dc","#4650e8","#4260f5","#3870fa","#2d80f4","#2590e8","#1f9ede","#1aaad5","#36c38e","#c0bf40","#f9f914"]},"legend":null}
    }
   },
   {
    "data":{"name":"boxes"},
    "mark":{"type":"rect","filled":false,"strokeWidth":3},
    "encoding":{
     "x":{"field":"x0","type":"quantitative","scale":{"domain":[0,30],"nice":false},
      "axis":{"orient":"top","labels":false,"ticks":false,"domain":false,"grid":false,"title":"Information Matrix","titleFontSize":50,"titleX":226,"titleY":-15,"titleBaseline":"alphabetic","titleAlign":"center"}},
     "x2":{"field":"x1"},
     "y":{"field":"y0","type":"quantitative","scale":{"domain":[0,30],"nice":false,"reverse":true},
      "axis":{"orient":"left","labels":false,"ticks":false,"domain":false,"grid":false,"title":"b)","titleAngle":0,"titleFontSize":10,"titleFontWeight":"normal","titleX":-17,"titleY":-61.3,"titleAlign":"left","titleBaseline":"alphabetic"}},
     "y2":{"field":"y1"},
     "stroke":{"field":"box","type":"nominal","scale":{"domain":["P","Y","R"],"range":["#5c2c6c","#dba81f","#e5212b"]},"legend":null}
    }
   }
  ],
  "resolve":{"scale":{"x":"independent","y":"independent","stroke":"independent"},"axis":{"x":"independent","y":"independent"}}
 }
],
"columns":2,"align":"none","bounds":"full","spacing":67,
"resolve":{"scale":{"fill":"independent","stroke":"independent","shape":"independent","size":"independent"},"legend":{"fill":"independent","stroke":"independent","shape":"independent","size":"independent"}}
}
